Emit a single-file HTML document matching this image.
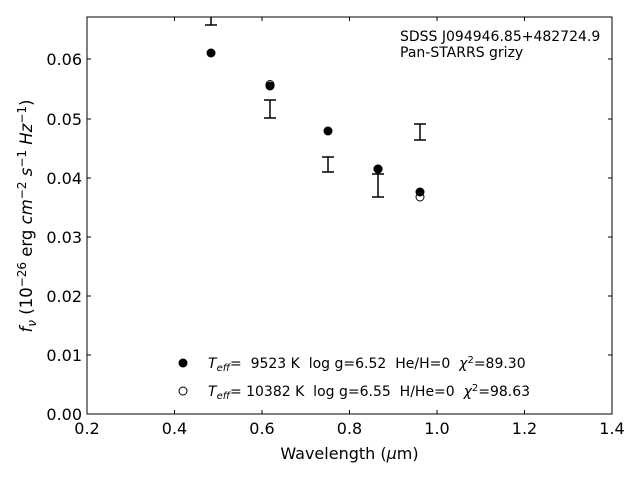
<!DOCTYPE html>
<html><head><style>body{margin:0;background:#fff}svg{display:block}text{font-family:"DejaVu Sans","Liberation Sans",sans-serif;white-space:pre}</style></head>
<body>
<svg width="640" height="480" xmlns="http://www.w3.org/2000/svg" xml:space="preserve">
<rect x="87" y="17" width="525" height="397" fill="none" stroke="#000" stroke-width="1"/>
<g stroke="#000" stroke-width="1">
<path d="M87,414v-4M174.5,414v-4M262,414v-4M349.5,414v-4M437,414v-4M524.5,414v-4M612,414v-4
M87,17v4M174.5,17v4M262,17v4M349.5,17v4M437,17v4M524.5,17v4M612,17v4"/>
<path d="M87,414h4M87,355h4M87,296h4M87,237h4M87,178h4M87,119h4M87,59h4
M612,414h-4M612,355h-4M612,296h-4M612,237h-4M612,178h-4M612,119h-4M612,59h-4"/>
</g>
<g font-size="16" text-anchor="middle" fill="#000">
<text x="87" y="434">0.2</text><text x="174.5" y="434">0.4</text><text x="262" y="434">0.6</text><text x="349.5" y="434">0.8</text><text x="437" y="434">1.0</text><text x="524.5" y="434">1.2</text><text x="612" y="434">1.4</text>
</g>
<g font-size="16" text-anchor="end" fill="#000">
<text x="82" y="420">0.00</text><text x="82" y="361">0.01</text><text x="82" y="302">0.02</text><text x="82" y="243">0.03</text><text x="82" y="184">0.04</text><text x="82" y="125">0.05</text><text x="82" y="65">0.06</text>
</g>
<text x="349.5" y="459" font-size="16" text-anchor="middle">Wavelength (<tspan font-style="italic">μ</tspan>m)</text>
<text transform="translate(32,216) rotate(-90)" font-size="16.5" text-anchor="middle"><tspan font-style="italic">f<tspan font-size="12" dy="4">ν</tspan></tspan><tspan dy="-4"> (10</tspan><tspan font-size="12" dy="-6">−26</tspan><tspan dy="6"> erg </tspan><tspan font-style="italic">cm</tspan><tspan font-size="12" dy="-6">−2</tspan><tspan dy="6" font-style="italic"> s</tspan><tspan font-size="12" dy="-6">−1</tspan><tspan dy="6" font-style="italic"> Hz</tspan><tspan font-size="12" dy="-6">−1</tspan><tspan dy="6">)</tspan></text>
<text x="400" y="41" font-size="14">SDSS J094946.85+482724.9</text>
<text x="400" y="57" font-size="14">Pan-STARRS grizy</text>
<g stroke="#000" stroke-width="1.5" fill="none">
<path d="M211,17v8M205,25h12"/>
<path d="M270,100v18M264,100h12M264,118h12"/>
<path d="M328,157v15M322,157h12M322,172h12"/>
<path d="M378,174v23M372,174h12M372,197h12"/>
<path d="M420,124v16M414,124h12M414,140h12"/>
</g>
<g fill="#fff" stroke="#000" stroke-width="1">
<circle cx="270" cy="84.5" r="4"/><circle cx="378" cy="169" r="4"/><circle cx="420" cy="197" r="4"/>
</g>
<g fill="#000">
<circle cx="211" cy="53" r="4.5"/><circle cx="270" cy="86" r="4.5"/><circle cx="328" cy="131" r="4.5"/><circle cx="378" cy="169" r="4.5"/><circle cx="420" cy="192" r="4.5"/>
<circle cx="183" cy="363" r="4.5"/>
</g>
<circle cx="183" cy="391" r="4" fill="#fff" stroke="#000"/>
<text x="208" y="368" font-size="14"><tspan font-style="italic">T<tspan font-size="10" dy="3">eff</tspan></tspan><tspan dy="-3">=  9523 K  log g=6.52  He/H=0  </tspan><tspan font-style="italic">χ</tspan><tspan font-size="10" dy="-5">2</tspan><tspan dy="5">=89.30</tspan></text>
<text x="208" y="396" font-size="14"><tspan font-style="italic">T<tspan font-size="10" dy="3">eff</tspan></tspan><tspan dy="-3">= 10382 K  log g=6.55  H/He=0  </tspan><tspan font-style="italic">χ</tspan><tspan font-size="10" dy="-5">2</tspan><tspan dy="5">=98.63</tspan></text>
</svg>
</body></html>
